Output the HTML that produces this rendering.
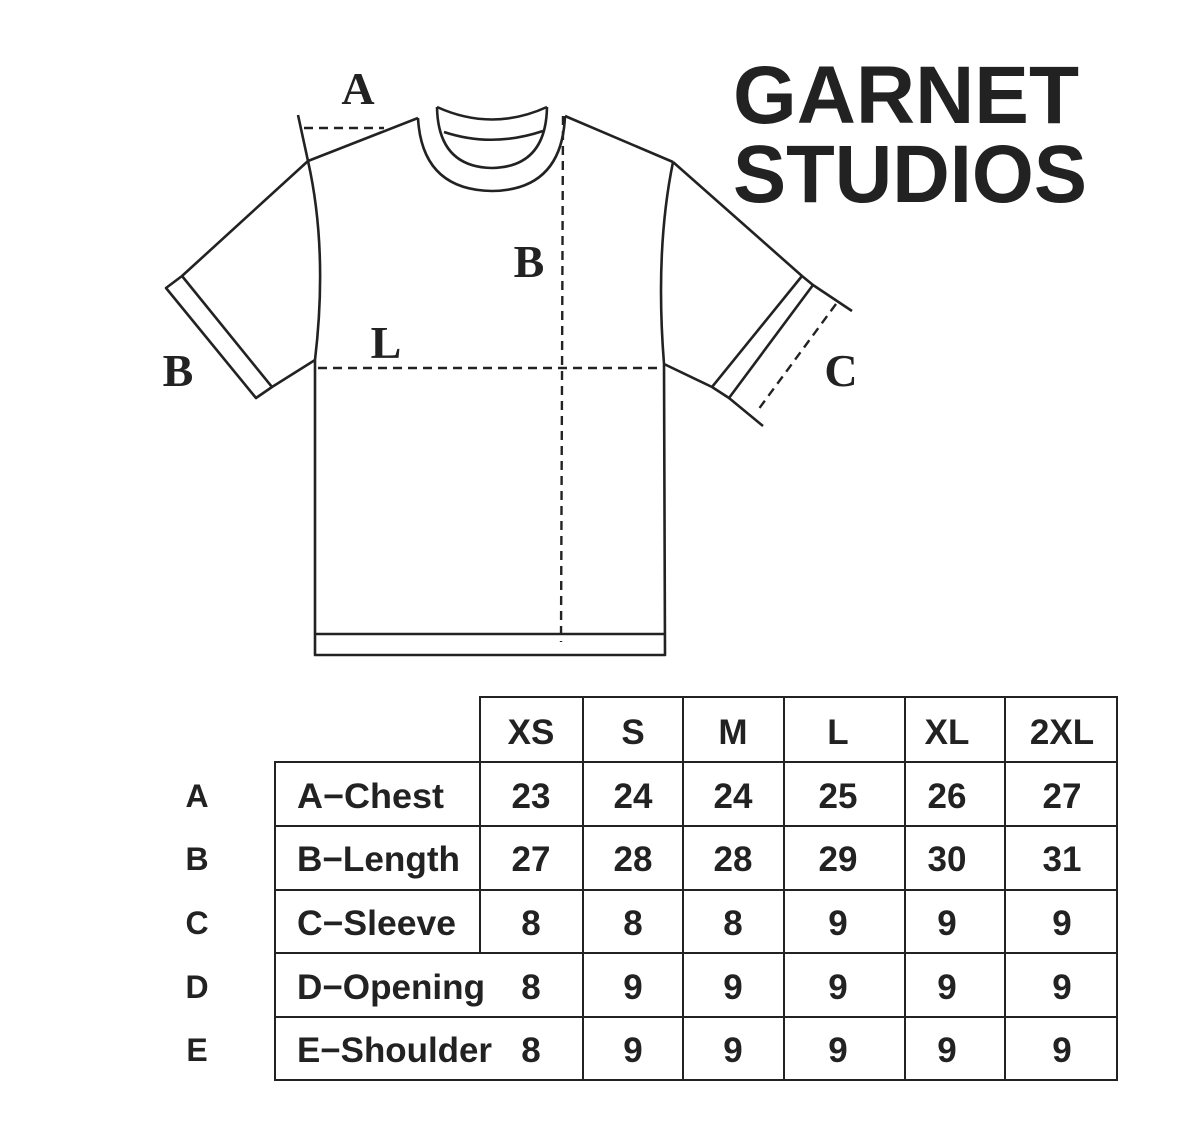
<!DOCTYPE html>
<html><head><meta charset="utf-8"><style>html,body{margin:0;padding:0;background:#fff}svg{display:block}</style></head><body>
<svg width="1179" height="1132" viewBox="0 0 1179 1132" xmlns="http://www.w3.org/2000/svg">
<rect width="1179" height="1132" fill="#fff"/>
<g fill="none" stroke="#222" stroke-width="2.6" stroke-linejoin="round">
<path d="M308,161 L418,118 M565,116 L673,162"/>
<path d="M308,161 Q328,250 315,360 L315,655 L665,655 L664,364 Q655,250 673,162"/>
<line x1="315" y1="634" x2="665" y2="634"/>
<path d="M437,107 Q492,132 547,107"/>
<path d="M418,118 Q422,190 492,191 Q562,190 565,116"/>
<path d="M437,107 Q438,167 492,168 Q546,167 547,107"/>
<path d="M444,132 Q492,148 543,131"/>
<path d="M308,161 L182,276 L166,288 L256,398 L272,387 L315,360"/>
<line x1="182" y1="276" x2="272" y2="387"/>
<path d="M673,162 L802,276 L813,285 L729,398 L712,387 L664,364"/>
<line x1="802" y1="276" x2="712" y2="387"/>
<line x1="813" y1="285" x2="852" y2="311"/>
<line x1="729" y1="398" x2="763" y2="426"/>
<line x1="298" y1="115" x2="308" y2="161"/>
</g>
<g fill="none" stroke="#222" stroke-width="2.4" stroke-dasharray="9,6">
<line x1="304" y1="128" x2="384" y2="128"/>
<line x1="563" y1="116" x2="561" y2="642"/>
<line x1="318" y1="368" x2="664" y2="368"/>
<line x1="836" y1="304" x2="758" y2="410"/>
</g>
<g font-family="Liberation Serif, serif" font-weight="bold" font-size="46" fill="#222" text-anchor="middle">
<text x="358" y="104">A</text>
<text x="529" y="277">B</text>
<text x="386" y="358">L</text>
<text x="178" y="386">B</text>
<text x="841" y="386">C</text>
</g>
<g font-family="Liberation Sans, sans-serif" font-weight="bold" font-size="82" fill="#222">
<text x="733" y="123" textLength="346" lengthAdjust="spacingAndGlyphs">GARNET</text>
<text x="733" y="202" textLength="354" lengthAdjust="spacingAndGlyphs">STUDIOS</text>
</g>
<g fill="none" stroke="#222" stroke-width="2">
<rect x="480" y="697" width="637" height="65"/>
<rect x="275" y="762" width="842" height="318"/>
<line x1="275" y1="826" x2="1117" y2="826"/>
<line x1="275" y1="890" x2="1117" y2="890"/>
<line x1="275" y1="953" x2="1117" y2="953"/>
<line x1="275" y1="1017" x2="1117" y2="1017"/>
<line x1="480" y1="762" x2="480" y2="953"/>
<line x1="583" y1="697" x2="583" y2="1080"/>
<line x1="683" y1="697" x2="683" y2="1080"/>
<line x1="784" y1="697" x2="784" y2="1080"/>
<line x1="905" y1="697" x2="905" y2="1080"/>
<line x1="1005" y1="697" x2="1005" y2="1080"/>
</g>
<g font-family="Liberation Sans, sans-serif" font-weight="bold" font-size="35" fill="#222" text-anchor="middle">
<text x="531" y="744">XS</text><text x="633" y="744">S</text><text x="733" y="744">M</text><text x="838" y="744">L</text><text x="947" y="744">XL</text><text x="1062" y="744">2XL</text>
<text x="531" y="808">23</text><text x="633" y="808">24</text><text x="733" y="808">24</text><text x="838" y="808">25</text><text x="947" y="808">26</text><text x="1062" y="808">27</text>
<text x="531" y="871">27</text><text x="633" y="871">28</text><text x="733" y="871">28</text><text x="838" y="871">29</text><text x="947" y="871">30</text><text x="1062" y="871">31</text>
<text x="531" y="935">8</text><text x="633" y="935">8</text><text x="733" y="935">8</text><text x="838" y="935">9</text><text x="947" y="935">9</text><text x="1062" y="935">9</text>
<text x="531" y="999">8</text><text x="633" y="999">9</text><text x="733" y="999">9</text><text x="838" y="999">9</text><text x="947" y="999">9</text><text x="1062" y="999">9</text>
<text x="531" y="1062">8</text><text x="633" y="1062">9</text><text x="733" y="1062">9</text><text x="838" y="1062">9</text><text x="947" y="1062">9</text><text x="1062" y="1062">9</text>
</g>
<g font-family="Liberation Sans, sans-serif" font-weight="bold" font-size="32" fill="#222" text-anchor="middle">
<text x="197" y="807">A</text><text x="197" y="870">B</text><text x="197" y="934">C</text><text x="197" y="998">D</text><text x="197" y="1061">E</text>
</g>
<g font-family="Liberation Sans, sans-serif" font-weight="bold" font-size="35" fill="#222">
<text x="297" y="808" textLength="147" lengthAdjust="spacingAndGlyphs">A−Chest</text>
<text x="297" y="871" textLength="163" lengthAdjust="spacingAndGlyphs">B−Length</text>
<text x="297" y="935" textLength="159" lengthAdjust="spacingAndGlyphs">C−Sleeve</text>
<text x="297" y="999" textLength="188" lengthAdjust="spacingAndGlyphs">D−Opening</text>
<text x="297" y="1062" textLength="195" lengthAdjust="spacingAndGlyphs">E−Shoulder</text>
</g>
</svg>
</body></html>
